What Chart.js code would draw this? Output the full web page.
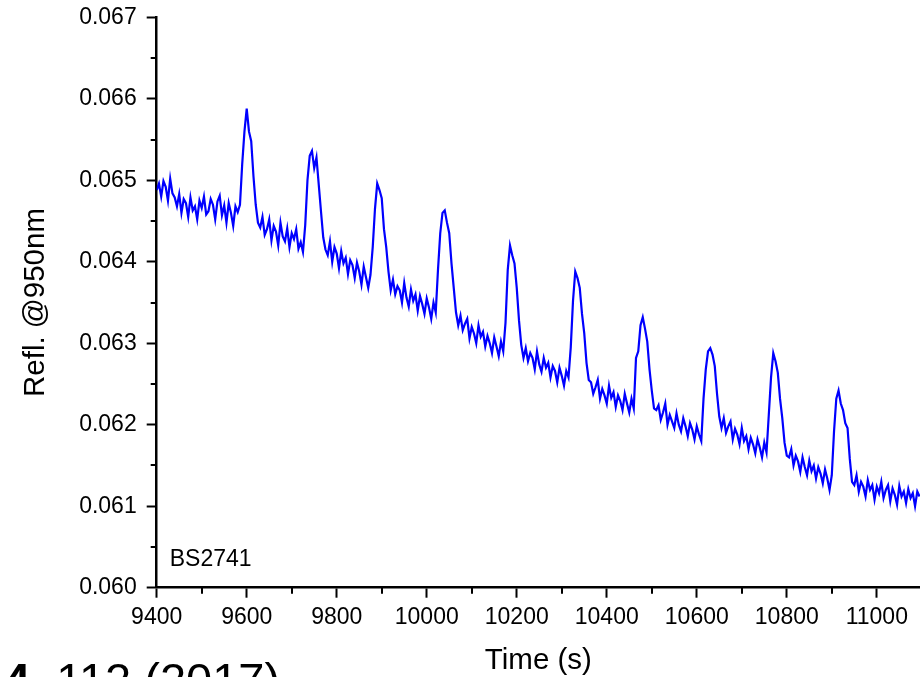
<!DOCTYPE html>
<html><head><meta charset="utf-8">
<script src="https://cdn.jsdelivr.net/npm/chart.js@4.4.1/dist/chart.umd.min.js"></script>
<style>html,body{margin:0;padding:0;background:#fff;overflow:hidden}canvas{display:block}</style>
</head><body>
<canvas id="c" width="920" height="677"></canvas>
<script>
// Time (s)
const timeS = [
9400,9405,9410,9415,9420,9425,9430,9435,9440,9445,9450,9455,9460,9465,9470,9475,9480,9485,9490,9495,
9500,9505,9510,9515,9520,9525,9530,9535,9540,9545,9550,9555,9560,9565,9570,9575,9580,9585,9590,9595,
9600,9605,9610,9615,9620,9625,9630,9635,9640,9645,9650,9655,9660,9665,9670,9675,9680,9685,9690,9695,
9700,9705,9710,9715,9720,9725,9730,9735,9740,9745,9750,9755,9760,9765,9770,9775,9780,9785,9790,9795,
9800,9805,9810,9815,9820,9825,9830,9835,9840,9845,9850,9855,9860,9865,9870,9875,9880,9885,9890,9895,
9900,9905,9910,9915,9920,9925,9930,9935,9940,9945,9950,9955,9960,9965,9970,9975,9980,9985,9990,9995,
10000,10005,10010,10015,10020,10025,10030,10035,10040,10045,10050,10055,10060,10065,10070,10075,10080,10085,10090,10095,
10100,10105,10110,10115,10120,10125,10130,10135,10140,10145,10150,10155,10160,10165,10170,10175,10180,10185,10190,10195,
10200,10205,10210,10215,10220,10225,10230,10235,10240,10245,10250,10255,10260,10265,10270,10275,10280,10285,10290,10295,
10300,10305,10310,10315,10320,10325,10330,10335,10340,10345,10350,10355,10360,10365,10370,10375,10380,10385,10390,10395,
10400,10405,10410,10415,10420,10425,10430,10435,10440,10445,10450,10455,10460,10465,10470,10475,10480,10485,10490,10495,
10500,10505,10510,10515,10520,10525,10530,10535,10540,10545,10550,10555,10560,10565,10570,10575,10580,10585,10590,10595,
10600,10605,10610,10615,10620,10625,10630,10635,10640,10645,10650,10655,10660,10665,10670,10675,10680,10685,10690,10695,
10700,10705,10710,10715,10720,10725,10730,10735,10740,10745,10750,10755,10760,10765,10770,10775,10780,10785,10790,10795,
10800,10805,10810,10815,10820,10825,10830,10835,10840,10845,10850,10855,10860,10865,10870,10875,10880,10885,10890,10895,
10900,10905,10910,10915,10920,10925,10930,10935,10940,10945,10950,10955,10960,10965,10970,10975,10980,10985,10990,10995,
11000,11005,11010,11015,11020,11025,11030,11035,11040,11045,11050,11055,11060,11065,11070,11075,11080,11085,11090,11095
];
// Refl. @950nm
const reflectance = [
.06488,.06496,.06480,.06499,.06492,.06475,.06502,.06484,.06479,.06468,.06483,.06460,.06477,.06472,.06455,.06479,.06463,.06468,.06452,.06475,.06466,.06480,.06458,.06462,.06477,.06470,.06452,.06474,.06481,.06457,.06469,.06448,.06472,.06460,.06444,.06468,.06461,
.06470,.06520,.06560,.06588,.06560,.06548,.06505,.06470,.06448,
.06442,.06455,.06433,.06440,.06452,.06426,.06444,.06437,.06420,.06448,.06431,.06425,.06441,.06418,.06435,.06428,.06440,.06416,.06424,.06412,
.06445,.06500,.06530,.06536,.06515,.06528,.06495,.06462,.06430,.06415,
.06408,.06425,.06400,.06418,.06410,.06392,.06413,.06398,.06405,.06385,.06402,.06396,.06380,.06399,.06388,.06372,.06394,.06381,.06368,.06384,
.06418,.06465,.06496,.06488,.06478,.06440,.06418,.06388,.06365,
.06378,.06360,.06370,.06365,.06350,.06374,.06356,.06345,.06366,.06352,.06360,.06340,.06358,.06348,.06336,.06355,.06344,.06330,.06350,.06338,
.06390,.06435,.06460,.06463,.06448,.06435,.06398,.06368,.06338,.06322,
.06334,.06316,.06324,.06330,.06306,.06320,.06312,.06300,.06322,.06308,.06314,.06296,.06309,.06300,.06288,.06307,.06296,.06284,.06302,.06290,
.06325,.06390,.06420,.06408,.06398,.06368,.06328,.06298,.06282,
.06294,.06278,.06288,.06282,.06268,.06290,.06274,.06265,.06282,.06270,.06276,.06258,.06272,.06266,.06252,.06270,.06260,.06248,.06266,.06258,
.06295,.06352,.06388,.06380,.06368,.06336,.06312,.06276,.06255,
.06252,.06238,.06246,.06255,.06232,.06244,.06236,.06226,.06248,.06233,.06240,.06222,.06236,.06229,.06218,.06238,.06226,.06215,.06232,.06220,
.06282,.06290,.06322,.06332,.06318,.06302,.06268,.06242,.06220,
.06218,.06224,.06206,.06215,.06226,.06200,.06212,.06204,.06196,.06214,.06200,.06192,.06208,.06198,.06186,.06202,.06194,.06182,.06198,.06188,.06180,
.06232,.06268,.06290,.06294,.06286,.06272,.06238,.06210,.06196,
.06208,.06190,.06198,.06204,.06182,.06195,.06188,.06176,.06196,.06180,.06186,.06170,.06184,.06176,.06165,.06182,.06172,.06160,.06178,.06166,
.06212,.06258,.06288,.06278,.06264,.06232,.06208,.06178,.06162,
.06160,.06170,.06150,.06162,.06155,.06142,.06160,.06148,.06138,.06156,.06143,.06150,.06134,.06148,.06140,.06128,.06145,.06134,.06120,.06138,
.06192,.06232,.06242,.06226,.06218,.06202,.06196,.06158,.06130,
.06126,.06138,.06118,.06130,.06124,.06112,.06132,.06120,.06126,.06108,.06124,.06116,.06130,.06110,.06120,.06126,.06106,.06122,.06114,.06102,.06125,.06112,.06118,.06104,.06121,.06110,.06116,.06100,.06118,.06112
];
const xMajorTicks = [9400,9600,9800,10000,10200,10400,10600,10800,11000];
const xMinorTicks = [9500,9700,9900,10100,10300,10500,10700,10900];
const yMajorTicks = [0.060,0.061,0.062,0.063,0.064,0.065,0.066,0.067];
const yMinorTicks = [0.0605,0.0615,0.0625,0.0635,0.0645,0.0655,0.0665];
const xRange = [9400, 11096];
const yRange = [0.060, 0.067];
const xTitle = 'Time (s)';
const yTitle = 'Refl. @950nm';
const sampleLabel = 'BS2741';
const citationBold = '4';
const citationRest = ', 112 (2017)';

const FONT = "'Liberation Sans', Arial, Helvetica, sans-serif";

const extras = {
  id: 'extras',
  afterDraw(chart) {
    const {ctx, chartArea: a, scales: {x, y}} = chart;
    ctx.save();
    ctx.strokeStyle = '#000';
    ctx.lineWidth = 2;
    ctx.beginPath();
    xMinorTicks.forEach(v => {
      const px = Math.round(x.getPixelForValue(v));
      if (px <= a.right) { ctx.moveTo(px, a.bottom); ctx.lineTo(px, a.bottom + 6); }
    });
    yMinorTicks.forEach(v => {
      const py = Math.round(y.getPixelForValue(v));
      ctx.moveTo(a.left, py); ctx.lineTo(a.left - 6, py);
    });
    ctx.stroke();
    ctx.fillStyle = '#000';
    ctx.textBaseline = 'alphabetic';
    ctx.textAlign = 'left';
    ctx.font = '23px ' + FONT;
    ctx.fillText(sampleLabel, a.left + 13, y.getPixelForValue(0.06027));
    ctx.font = 'bold 47px ' + FONT;
    ctx.fillText(citationBold, 4, 696);
    const w = ctx.measureText(citationBold).width;
    ctx.font = '47px ' + FONT;
    ctx.fillText(citationRest, 4 + w, 696);
    ctx.restore();
  }
};

new Chart(document.getElementById('c'), {
  type: 'line',
  data: {
    datasets: [{
      data: timeS.map((t, i) => ({x: t, y: reflectance[i]})),
      borderColor: '#0000ff',
      borderWidth: 2.2,
      pointRadius: 0,
      tension: 0,
      fill: false
    }]
  },
  options: {
    responsive: false,
    animation: false,
    devicePixelRatio: 1,
    layout: {padding: {top: 17.3, right: 0, bottom: 0, left: 0}},
    plugins: {legend: {display: false}, tooltip: {enabled: false}},
    scales: {
      x: {
        type: 'linear',
        min: xRange[0], max: xRange[1],
        afterBuildTicks: s => { s.ticks = xMajorTicks.map(v => ({value: v})); },
        afterFit: s => { s.height = 89.3; },
        grid: {display: true, drawOnChartArea: false, drawTicks: true, tickLength: 10, tickColor: '#000', tickWidth: 2},
        border: {display: true, color: '#000', width: 2.5},
        ticks: {color: '#000', font: {family: FONT, size: 23}, padding: 6, maxRotation: 0, autoSkip: false,
          callback: v => String(v)},
        title: {display: true, text: xTitle, color: '#000', font: {family: FONT, size: 29.5}, padding: {top: 0, bottom: -2}}
      },
      y: {
        type: 'linear',
        min: yRange[0], max: yRange[1],
        afterBuildTicks: s => { s.ticks = yMajorTicks.map(v => ({value: v})); },
        afterFit: s => { s.width = 156.7; s.paddingTop = 0; s.paddingBottom = 0; },
        grid: {display: true, drawOnChartArea: false, drawTicks: true, tickLength: 10, tickColor: '#000', tickWidth: 2},
        border: {display: true, color: '#000', width: 2.5},
        ticks: {color: '#000', font: {family: FONT, size: 23}, padding: 10, autoSkip: false,
          callback: v => v.toFixed(3)},
        title: {display: true, text: yTitle, color: '#000', font: {family: FONT, size: 29.5}, padding: {top: 18, bottom: 0}}
      }
    }
  },
  plugins: [extras]
});
</script>
</body></html>
